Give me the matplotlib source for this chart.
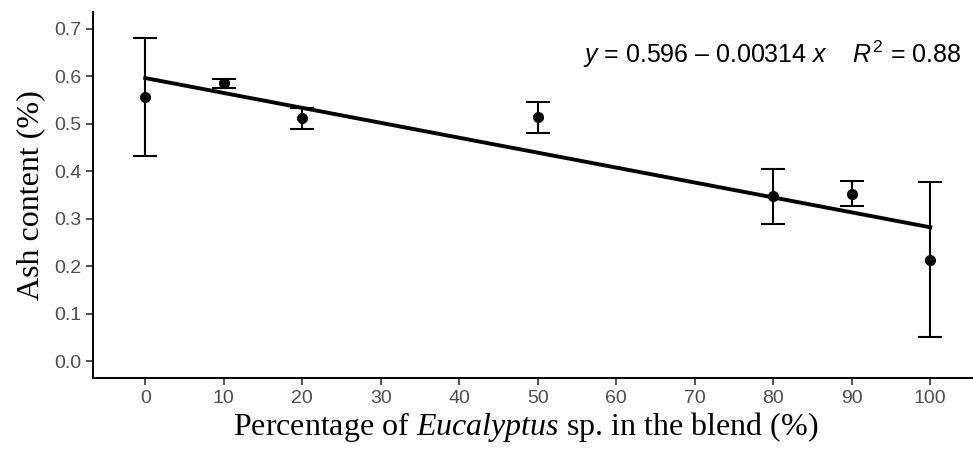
import numpy as np
import matplotlib.pyplot as plt

# proportion d'eucalyptus dans le mélange (%) et teneur en cendres (%)
eucalyptus = [0, 10, 20, 50, 80, 90, 100]
cendres = [0.556, 0.585, 0.511, 0.513, 0.347, 0.353, 0.214]
ecart = [0.124, 0.009, 0.023, 0.032, 0.058, 0.026, 0.163]

# droite de régression
intercept = 0.596
pente = -0.00314
r2 = 0.88

# polices pour le texte mathématique : sans-serif pour l'équation,
# italique avec empattement (sf) pour le nom du genre dans l'axe x
plt.rcParams['mathtext.fontset'] = 'custom'
plt.rcParams['mathtext.rm'] = 'Liberation Sans'
plt.rcParams['mathtext.it'] = 'Liberation Sans:italic'
plt.rcParams['mathtext.sf'] = 'Liberation Serif:italic'

fig = plt.figure(figsize=(9.73, 4.53), dpi=100)
ax = fig.add_axes([0.0956, 0.1656, 0.9137, 0.808])

xr = np.array([min(eucalyptus), max(eucalyptus)])
ax.plot(xr, intercept + pente * xr, color='black', lw=2.8, zorder=3)

ax.errorbar(eucalyptus, cendres, yerr=ecart, fmt='o', color='black',
            ms=7, elinewidth=1.5, capsize=8.3, capthick=1.5, zorder=4)

ax.text(104, 0.645, r'$y$ = %.3f – %.5f $x$    $R^{\mathrm{2}}$ = %.2f' % (intercept, -pente, r2),
        ha='right', va='center', fontsize=18, family='Liberation Sans')

ax.set_xlim(-6.65, 106.6)
ax.set_ylim(-0.035, 0.735)
ax.set_xticks(range(0, 101, 10))
ax.set_yticks(np.arange(0, 0.71, 0.1))
ax.set_yticklabels([f'{v:.1f}' for v in np.arange(0, 0.71, 0.1)])

for s in ['top', 'right']:
    ax.spines[s].set_visible(False)
for s in ['left', 'bottom']:
    ax.spines[s].set_linewidth(1.4)

ax.tick_params(direction='out', length=5, width=1.2, color='#333333',
               labelcolor='#4d4d4d', labelsize=14)
for lab in ax.get_xticklabels() + ax.get_yticklabels():
    lab.set_family('Liberation Sans')

ax.set_xlabel(r'Percentage of $\mathsf{Eucalyptus}$ sp. in the blend (%)',
              family='Liberation Serif', fontsize=23, va='center')
ax.xaxis.set_label_coords(0.487, -0.135)
ax.set_ylabel('Ash content (%)', family='Liberation Serif', fontsize=23, labelpad=6)

fig.savefig('out.png', dpi=100)
